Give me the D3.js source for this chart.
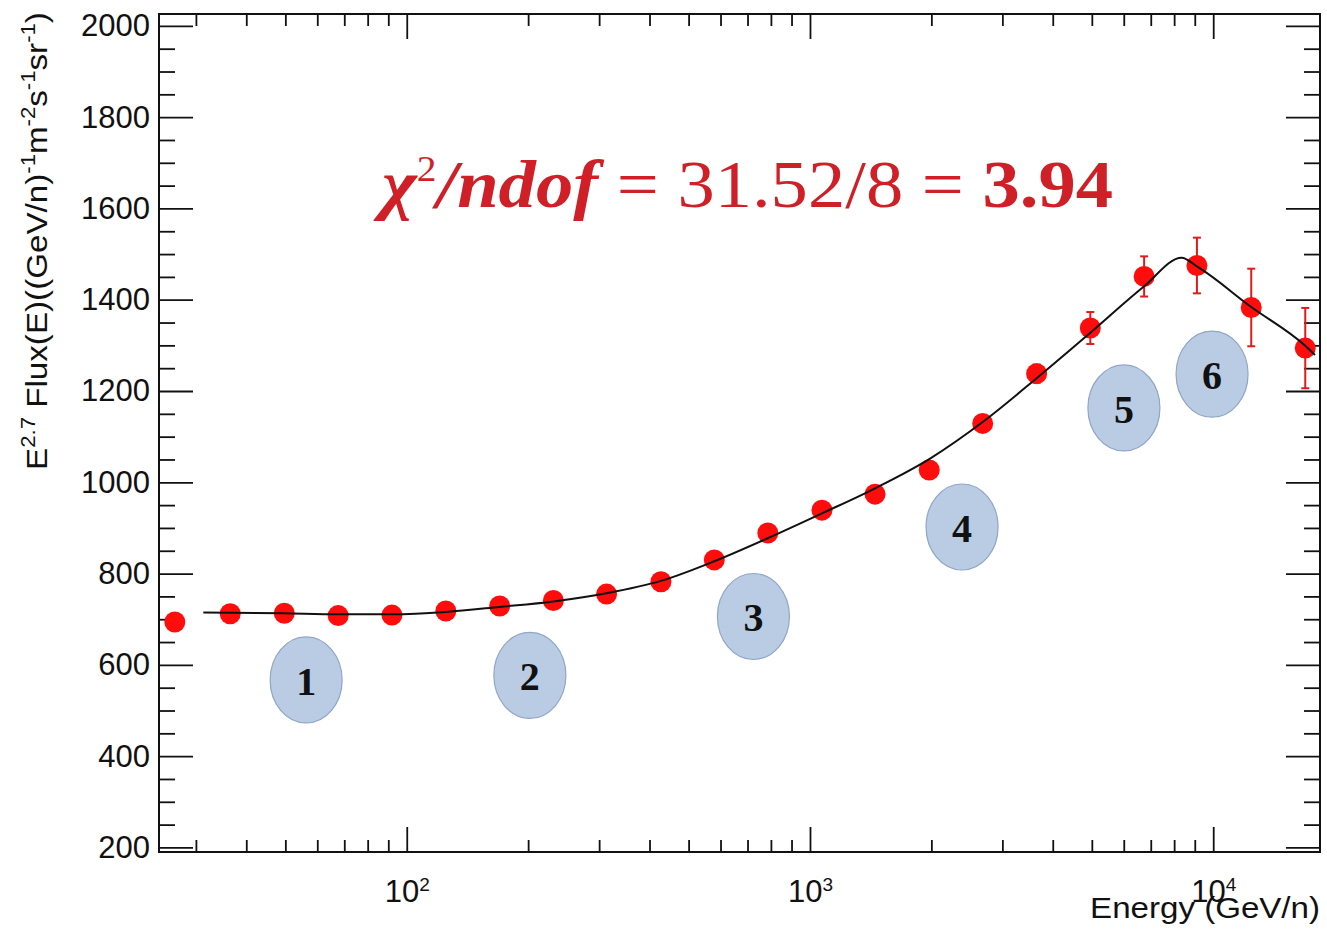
<!DOCTYPE html>
<html>
<head>
<meta charset="utf-8">
<script src="https://cdn.jsdelivr.net/npm/d3@7"></script>
<style>
  body { margin: 0; background: #ffffff; }
  svg { display: block; }
</style>
</head>
<body>
<svg id="chart" width="1327" height="930"></svg>
<script>
// measured points: energy (GeV/n), E^2.7 flux and its error
const energy = [26.6, 36.5, 49.7, 67.6, 91.9, 125, 170, 231, 313, 427, 579, 786, 1071, 1450, 1976, 2681, 3648, 4957, 6740, 9112, 12425, 16915];
const flux = [694, 712, 713, 708, 709, 718, 729, 741, 755, 782, 830, 889, 939, 974, 1027, 1129, 1238, 1338, 1451, 1475, 1383, 1294];
const fluxErr = [5, 5, 5, 5, 5, 6, 6, 7, 7, 8, 9, 10, 12, 14, 16, 18, 20, 35, 44, 61, 85, 88];

// fitted curve
const fitEnergy = [31.3, 49.6, 67.6, 91.9, 125, 170, 231, 313, 427, 579, 788, 1071, 1459, 1985, 2681, 3648, 4947, 6732, 8350, 9112, 12425, 16915, 17875];
const fitFlux = [715, 713, 711, 711, 716, 727, 739, 757, 784, 827, 878, 932, 988, 1052, 1132, 1228, 1327, 1429, 1492, 1473, 1384, 1299, 1279];

// numbered bubbles
const bandLabel = ["1", "2", "3", "4", "5", "6"];
const bandEnergy = [56.3, 202, 724, 2383, 6005, 9935];
const bandFlux = [567, 577, 706, 902, 1163, 1237];

// ticks
const yMajorTicks = [200, 400, 600, 800, 1000, 1200, 1400, 1600, 1800, 2000];
const xMajorTicks = [100, 1000, 10000];
const xMajorExp = ["2", "3", "4"];

class FluxPlot {
    constructor(svgId) {
        this.svg = d3.select(svgId);
        this.frame = {left: 159, right: 1320, top: 14, bottom: 852};
        this.red = "#ff0d0d";
        this.titleRed = "#cf1f27";
    }

    init() {
        this.x = d3.scaleLog()
            .domain([24.3, 18400])
            .range([this.frame.left, this.frame.right]);
        this.y = d3.scaleLinear()
            .domain([190, 2026])
            .range([this.frame.bottom, this.frame.top]);

        // minor ticks: 2..9 of every decade, every 50 on y
        this.xMinorTicks = [];
        [10, 100, 1000, 10000].forEach(d => {
            d3.range(2, 10).forEach(k => {
                const v = d * k;
                if (v > 24.3 && v < 18400) this.xMinorTicks.push(v);
            });
        });
        this.yMinorTicks = d3.range(250, 2000, 50).filter(v => v % 200 !== 0);

        this.data = energy.map((e, i) => ({e: e, f: flux[i], err: fluxErr[i]}));
        this.fit = fitEnergy.map((e, i) => ({e: e, f: fitFlux[i]}));
        this.bands = bandLabel.map((l, i) => ({label: l, e: bandEnergy[i], f: bandFlux[i]}));
    }

    draw() {
        this._drawAxes();
        this._drawPoints();
        this._drawFit();
        this._drawBands();
        this._drawTexts();
    }

    _styleAxis(g) {
        g.select(".domain").remove();
        g.selectAll(".tick line").attr("stroke", "#111").attr("stroke-width", 1.8);
        g.attr("font-family", "'Liberation Sans', Arial, sans-serif").attr("font-size", 31);
        g.selectAll(".tick text").attr("fill", "#111");
    }

    _drawAxes() {
        const f = this.frame;
        const none = () => "";

        // bottom
        const bottom = this.svg.append("g")
            .attr("transform", `translate(0,${f.bottom})`)
            .call(d3.axisBottom(this.x).tickValues(xMajorTicks).tickSize(-25).tickPadding(28).tickFormat(none))
            .call(g => this._styleAxis(g));
        bottom.selectAll(".tick text").each(function(d, i) {
            const t = d3.select(this);
            t.append("tspan").text("10");
            t.append("tspan").text(xMajorExp[i]).attr("font-size", 19).attr("dy", -11);
        });
        this.svg.append("g")
            .attr("transform", `translate(0,${f.bottom})`)
            .call(d3.axisBottom(this.x).tickValues(this.xMinorTicks).tickSize(-12).tickFormat(none))
            .call(g => this._styleAxis(g));

        // top
        this.svg.append("g")
            .attr("transform", `translate(0,${f.top})`)
            .call(d3.axisTop(this.x).tickValues(xMajorTicks).tickSize(-25).tickFormat(none))
            .call(g => this._styleAxis(g));
        this.svg.append("g")
            .attr("transform", `translate(0,${f.top})`)
            .call(d3.axisTop(this.x).tickValues(this.xMinorTicks).tickSize(-12).tickFormat(none))
            .call(g => this._styleAxis(g));

        // left
        this.svg.append("g")
            .attr("transform", `translate(${f.left},0)`)
            .call(d3.axisLeft(this.y).tickValues(yMajorTicks).tickSize(-34).tickPadding(9).tickFormat(d3.format("d")))
            .call(g => this._styleAxis(g));
        this.svg.append("g")
            .attr("transform", `translate(${f.left},0)`)
            .call(d3.axisLeft(this.y).tickValues(this.yMinorTicks).tickSize(-16).tickFormat(none))
            .call(g => this._styleAxis(g));

        // right
        this.svg.append("g")
            .attr("transform", `translate(${f.right},0)`)
            .call(d3.axisRight(this.y).tickValues(yMajorTicks).tickSize(-34).tickFormat(none))
            .call(g => this._styleAxis(g));
        this.svg.append("g")
            .attr("transform", `translate(${f.right},0)`)
            .call(d3.axisRight(this.y).tickValues(this.yMinorTicks).tickSize(-16).tickFormat(none))
            .call(g => this._styleAxis(g));

        // frame
        this.svg.append("rect")
            .attr("x", f.left)
            .attr("y", f.top)
            .attr("width", f.right - f.left)
            .attr("height", f.bottom - f.top)
            .style("fill", "none")
            .style("stroke", "#111")
            .style("stroke-width", 2);
    }

    _drawPoints() {
        const g = this.svg.append("g");
        g.selectAll("line.err")
            .data(this.data)
            .join("line")
            .attr("class", "err")
            .attr("x1", d => this.x(d.e))
            .attr("x2", d => this.x(d.e))
            .attr("y1", d => this.y(d.f - d.err))
            .attr("y2", d => this.y(d.f + d.err))
            .style("stroke", "#e01b1b")
            .style("stroke-width", 2);
        // little caps at the ends of the error bars
        ["lo", "hi"].forEach(side => {
            g.selectAll(`line.cap-${side}`)
                .data(this.data)
                .join("line")
                .attr("class", `cap-${side}`)
                .attr("x1", d => this.x(d.e) - 4)
                .attr("x2", d => this.x(d.e) + 4)
                .attr("y1", d => this.y(side === "lo" ? d.f - d.err : d.f + d.err))
                .attr("y2", d => this.y(side === "lo" ? d.f - d.err : d.f + d.err))
                .style("stroke", "#e01b1b")
                .style("stroke-width", 2);
        });
        g.selectAll("circle.pt")
            .data(this.data)
            .join("circle")
            .attr("class", "pt")
            .attr("cx", d => this.x(d.e))
            .attr("cy", d => this.y(d.f))
            .attr("r", 10.5)
            .style("fill", this.red);
    }

    _drawFit() {
        const line = d3.line()
            .x(d => this.x(d.e))
            .y(d => this.y(d.f))
            .curve(d3.curveMonotoneX);
        this.svg.append("path")
            .datum(this.fit)
            .attr("d", line)
            .style("fill", "none")
            .style("stroke", "#111")
            .style("stroke-width", 2);
    }

    _drawBands() {
        const g = this.svg.append("g");
        g.selectAll("ellipse.band")
            .data(this.bands)
            .join("ellipse")
            .attr("class", "band")
            .attr("cx", d => this.x(d.e))
            .attr("cy", d => this.y(d.f))
            .attr("rx", 36)
            .attr("ry", 43)
            .style("fill", "#b9cce4")
            .style("stroke", "#8fa6c6")
            .style("stroke-width", 1.2);
        g.selectAll("text.band")
            .data(this.bands)
            .join("text")
            .attr("class", "band")
            .attr("x", d => this.x(d.e))
            .attr("y", d => this.y(d.f) + 15)
            .attr("text-anchor", "middle")
            .attr("font-family", "'Liberation Serif', 'Times New Roman', serif")
            .attr("font-weight", "bold")
            .attr("font-size", 40)
            .style("fill", "#111")
            .text(d => d.label);
    }

    // text with superscripts, parts = [{t, sup, italic, bold}]
    _rich(text, parts, supSize, rise) {
        let up = false;
        parts.forEach(p => {
            const ts = text.append("tspan").text(p.t);
            if (p.sup) {
                ts.attr("font-size", supSize);
                if (!up) ts.attr("dy", -rise);
                up = true;
            } else {
                if (up) ts.attr("dy", rise);
                up = false;
            }
            if (p.italic) ts.attr("font-style", "italic");
            if (p.bold) ts.attr("font-weight", "bold");
        });
    }

    // squeeze / stretch a text group along its length to a given width
    _fit(g, text, width) {
        const w = text.node().getBBox().width;
        g.attr("transform", g.attr("transform") + ` scale(${width / w},1)`);
    }

    _drawTexts() {
        // y title
        const gy = this.svg.append("g").attr("transform", "translate(47,241) rotate(-90)");
        const ty = gy.append("text")
            .attr("text-anchor", "middle")
            .attr("font-family", "'Liberation Sans', Arial, sans-serif")
            .attr("font-size", 30)
            .style("fill", "#111");
        this._rich(ty, [
            {t: "E"}, {t: "2.7", sup: true}, {t: " Flux(E)((GeV/n)"}, {t: "-1", sup: true},
            {t: "m"}, {t: "-2", sup: true}, {t: "s"}, {t: "-1", sup: true},
            {t: "sr"}, {t: "-1", sup: true}, {t: ")"}
        ], 20, 12);
        this._fit(gy, ty, 458);

        // x title
        const gx = this.svg.append("g").attr("transform", "translate(1320,918)");
        const tx = gx.append("text")
            .attr("text-anchor", "end")
            .attr("font-family", "'Liberation Sans', Arial, sans-serif")
            .attr("font-size", 30)
            .style("fill", "#111")
            .text("Energy (GeV/n)");
        this._fit(gx, tx, 230);

        // chi2 label
        const gt = this.svg.append("g").attr("transform", "translate(382,207)");
        const tt = gt.append("text")
            .attr("font-family", "'Liberation Serif', 'Times New Roman', serif")
            .attr("font-size", 68)
            .style("fill", this.titleRed);
        this._rich(tt, [
            {t: "χ", italic: true, bold: true}, {t: "2", sup: true},
            {t: "/ndof", italic: true, bold: true},
            {t: " = 31.52/8 = "},
            {t: "3.94", bold: true}
        ], 36, 26);
        this._fit(gt, tt, 740);
    }
}

const plot = new FluxPlot("#chart");
plot.init();
plot.draw();
</script>
</body>
</html>
